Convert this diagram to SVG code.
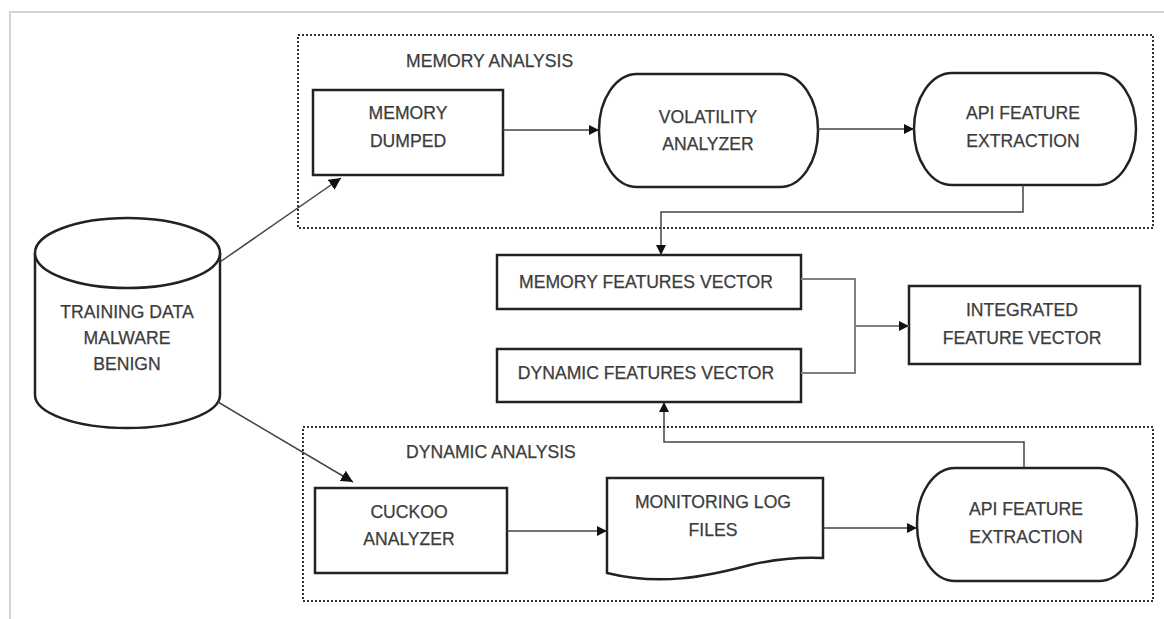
<svg xmlns="http://www.w3.org/2000/svg" width="1164" height="619" viewBox="0 0 1164 619">
<defs>
<style>
.t{font-family:"Liberation Sans",Arial,sans-serif;font-size:17.6px;fill:#3c3c3c;stroke:#3c3c3c;stroke-width:0.25;text-anchor:middle}
.tl{font-family:"Liberation Sans",Arial,sans-serif;font-size:17.6px;fill:#3c3c3c;stroke:#3c3c3c;stroke-width:0.25}
.n{fill:#fff;stroke:#222;stroke-width:2.5}
.grp{fill:none;stroke:#333;stroke-width:2;stroke-dasharray:2 2}
.c{fill:none;stroke:#444;stroke-width:1.5}
.cg{fill:none;stroke:#808080;stroke-width:2}
</style>
<marker id="ah" viewBox="0 0 10 10" refX="10" refY="5" markerWidth="10" markerHeight="10" markerUnits="userSpaceOnUse" orient="auto">
<path d="M0,0 L10,5 L0,10 z" fill="#111"/>
</marker>
<marker id="ah2" viewBox="0 0 10 10" refX="10" refY="5" markerWidth="12" markerHeight="12" markerUnits="userSpaceOnUse" orient="auto">
<path d="M0,0 L10,5 L0,10 z" fill="#111"/>
</marker>
</defs>
<rect width="1164" height="619" fill="#fff"/>
<path d="M10,619 V12 H1164" fill="none" stroke="#d4d4d4" stroke-width="2"/>

<g id="memory-analysis">
<rect class="grp" x="298" y="35" width="855" height="193"/>
<text class="tl" x="406" y="67">MEMORY ANALYSIS</text>
</g>
<g id="dynamic-analysis">
<rect class="grp" x="303" y="427" width="850" height="174"/>
<text class="tl" x="406" y="458">DYNAMIC ANALYSIS</text>
</g>

<g id="training-data">
<path class="n" d="M35,253 V395 A92.5,33 0 0 0 220,395 V253"/>
<ellipse class="n" cx="127.5" cy="253" rx="92.5" ry="35"/>
<text class="t" x="127" y="318">TRAINING DATA</text>
<text class="t" x="127" y="344">MALWARE</text>
<text class="t" x="127" y="370">BENIGN</text>
</g>

<g id="memory-dumped">
<rect class="n" x="313" y="90" width="190" height="85"/>
<text class="t" x="408" y="119">MEMORY</text>
<text class="t" x="408" y="147">DUMPED</text>
</g>
<g id="volatility-analyzer">
<rect class="n" x="599" y="74" width="219" height="113" rx="38" ry="56"/>
<text class="t" x="708" y="123">VOLATILITY</text>
<text class="t" x="708" y="150">ANALYZER</text>
</g>
<g id="api-feature-extraction-1">
<rect class="n" x="914" y="73" width="222" height="112" rx="38" ry="56"/>
<text class="t" x="1023" y="119">API FEATURE</text>
<text class="t" x="1023" y="147">EXTRACTION</text>
</g>

<g id="memory-features-vector">
<rect class="n" x="497" y="255" width="304" height="54"/>
<text class="t" x="646" y="288">MEMORY FEATURES VECTOR</text>
</g>
<g id="dynamic-features-vector">
<rect class="n" x="497" y="349" width="304" height="53"/>
<text class="t" x="646" y="379">DYNAMIC FEATURES VECTOR</text>
</g>
<g id="integrated-feature-vector">
<rect class="n" x="909" y="286" width="231" height="78"/>
<text class="t" x="1022" y="316">INTEGRATED</text>
<text class="t" x="1022" y="344">FEATURE VECTOR</text>
</g>

<g id="cuckoo-analyzer">
<rect class="n" x="315" y="488" width="192" height="85"/>
<text class="t" x="409" y="518">CUCKOO</text>
<text class="t" x="409" y="545">ANALYZER</text>
</g>
<g id="monitoring-log-files">
<path class="n" d="M607,478 H823 V558 C800,557 775,559 750,565 C705,577 660,586 607,573 Z"/>
<text class="t" x="713" y="508">MONITORING LOG</text>
<text class="t" x="713" y="536">FILES</text>
</g>
<g id="api-feature-extraction-2">
<rect class="n" x="917" y="468" width="220" height="113" rx="38" ry="56"/>
<text class="t" x="1026" y="515">API FEATURE</text>
<text class="t" x="1026" y="543">EXTRACTION</text>
</g>

<g id="connectors">
<line class="c" x1="220" y1="262" x2="341" y2="178" marker-end="url(#ah2)"/>
<line class="c" x1="218" y1="402" x2="353" y2="482" marker-end="url(#ah2)"/>
<line class="c" x1="503" y1="130" x2="599" y2="130" marker-end="url(#ah)"/>
<line class="c" x1="818" y1="129" x2="914" y2="129" marker-end="url(#ah)"/>
<path class="c" d="M1023,185 V212 H661 V255" marker-end="url(#ah)"/>
<path class="c" d="M1024,468 V442 H664 V402" marker-end="url(#ah)"/>
<path class="cg" d="M801,279 H855 V373 H801"/>
<line class="cg" x1="855" y1="326" x2="909" y2="326" marker-end="url(#ah)"/>
<line class="c" x1="507" y1="531" x2="607" y2="531" marker-end="url(#ah)"/>
<line class="c" x1="823" y1="528" x2="917" y2="528" marker-end="url(#ah)"/>
</g>
</svg>
